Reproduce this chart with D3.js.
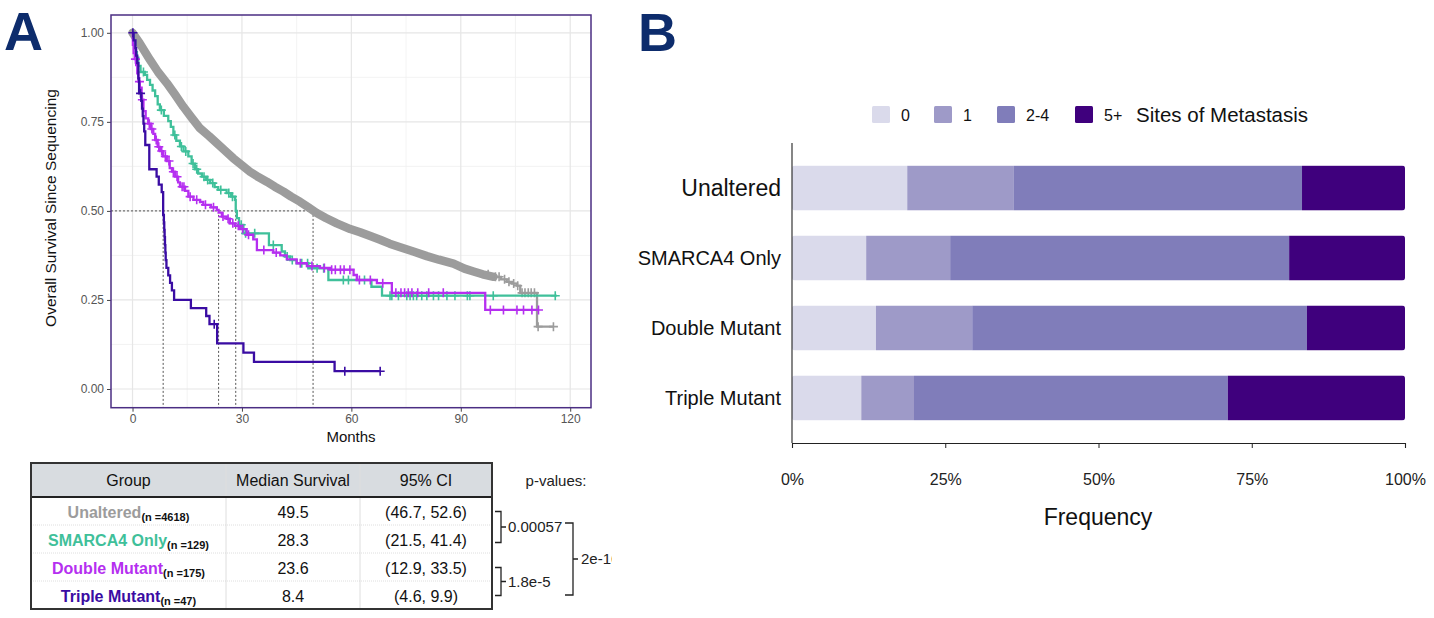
<!DOCTYPE html>
<html><head><meta charset="utf-8">
<script src="https://cdn.jsdelivr.net/npm/d3@7"></script>
<style>html,body{margin:0;padding:0;background:#fff;} svg{display:block;font-family:"Liberation Sans",Arial,Helvetica,sans-serif;}</style>
</head><body><svg id="c" width="1434" height="618"></svg>
<script>
// ---------- Panel A data (Kaplan-Meier) ----------
const unalteredT = [0,2,4.8,7,9.4,11.7,13.9,16.2,18.5,21,23.1,25.5,27.6,30,32.2,34.5,36.8,39,41.4,43.5,45.9,48.2,50.5,53,56,59.7,62.4,65,67.9,70.5,73.4,77,80.7,84,88,91,93.5,96,99,101,102.6,104,105.4,106.3,110.9];
const unalteredS = [1,0.97,0.924,0.89,0.859,0.826,0.793,0.762,0.732,0.71,0.69,0.668,0.648,0.628,0.61,0.595,0.582,0.568,0.554,0.54,0.526,0.51,0.494,0.48,0.465,0.449,0.44,0.43,0.419,0.408,0.398,0.386,0.373,0.363,0.352,0.338,0.33,0.322,0.315,0.308,0.301,0.296,0.29,0.27,0.175];
const unalteredEnd = 115.4;
const unalteredCens = [97.5,99.5,100.5,102,103.2,104.5,105.6,106.8,107.6,108.5,109.3,110.2,111.2,115.4];

const smarcaT = [0,0.3,0.7,1.2,1.6,2.2,3.4,4.0,4.8,5.5,6.2,6.9,7.5,8.6,9.8,10.5,11.2,12.0,13.0,14.0,15.3,16.2,17.1,18.0,19.0,20.2,21.3,22.5,23.5,25.8,27.0,28.1,28.3,28.6,29.2,30.4,37.4,40.9,41.8,43.2,45.0,48.2,53.7,65.5,68.4];
const smarcaS = [1,0.977,0.946,0.93,0.907,0.89,0.882,0.868,0.854,0.838,0.822,0.799,0.783,0.767,0.752,0.736,0.713,0.697,0.681,0.667,0.653,0.633,0.617,0.605,0.596,0.587,0.578,0.567,0.559,0.55,0.54,0.531,0.50,0.48,0.461,0.437,0.404,0.386,0.372,0.362,0.353,0.339,0.306,0.287,0.262];
const smarcaEnd = 116.3;
const smarcaCens = [3.0,7.9,11.6,13.4,14.6,16.6,17.6,19.6,20.6,22.0,24.2,26.4,27.4,29.8,31.0,33.5,38.6,42.4,43.8,46.4,48.0,50.6,52.4,57.8,59.2,63.6,70.6,71.1,72.9,75.2,76.1,77.0,77.9,79.3,80.7,82.5,83.9,86.2,88.4,91.8,92.5,98.9,115.9];

const doubleT = [0,0.1,0.3,0.6,1.0,1.3,1.6,2.0,2.5,3.0,3.6,4.3,5.0,5.7,6.2,6.9,7.5,8.4,9.4,10.2,10.8,11.7,12.5,13.0,14.4,15.3,16.7,18.5,19.4,21.5,23.1,23.6,24.5,25.8,26.7,28.1,29.5,31.3,33.1,34.1,38.6,40.5,42.3,45.0,47.8,51.4,54.2,60.6,61.5,67.0,71.1,96.7];
const doubleS = [1,0.966,0.943,0.926,0.909,0.886,0.863,0.846,0.812,0.78,0.76,0.745,0.73,0.716,0.699,0.68,0.668,0.653,0.64,0.62,0.61,0.596,0.58,0.568,0.556,0.54,0.531,0.525,0.517,0.51,0.503,0.495,0.484,0.478,0.465,0.458,0.449,0.433,0.42,0.39,0.383,0.375,0.364,0.353,0.345,0.34,0.335,0.32,0.306,0.297,0.27,0.222];
const doubleEnd = 111.3;
const doubleCens = [0.8,1.9,2.7,4.6,5.3,6.5,7.2,8.0,9.0,10.0,11.2,12.2,13.6,14.1,15.8,17.6,20.0,22.2,24.8,26.2,27.5,29.0,30.2,31.8,36.0,39.4,46.0,49.2,52.6,54.6,55.6,57.0,58.0,59.6,62.2,65.2,68.6,72.2,73.6,74.6,75.6,76.6,78.2,81.2,85.2,98.1,101.7,105.4,107.2,109.5,111.3];

const tripleT = [0,0.3,0.8,1.0,1.3,1.6,1.8,2.4,2.6,2.8,3.0,3.2,3.5,4.6,6.6,7.2,8.0,8.4,8.6,8.7,8.8,8.9,9.0,9.1,9.3,9.8,10.3,10.8,11.4,16,20.2,21.1,23.2,30.4,33.3,55.4];
const tripleS = [1,0.979,0.957,0.936,0.915,0.872,0.83,0.809,0.787,0.766,0.745,0.723,0.685,0.617,0.596,0.574,0.553,0.489,0.468,0.447,0.426,0.404,0.383,0.362,0.340,0.319,0.298,0.277,0.25,0.227,0.205,0.182,0.128,0.102,0.076,0.05];
const tripleEnd = 67.9;
const tripleCens = [0.1,2.2,22.4,58.2,67.9];

const groupNames = ["Unaltered","SMARCA4 Only","Double Mutant","Triple Mutant"];
const groupN = ["(n =4618)","(n =129)","(n =175)","(n =47)"];
const groupColors = ["#9c9c9c","#3fc09a","#b52ff0","#3a0ca3"];
const medianSurvival = [49.5,28.3,23.6,8.4];
const ciText = ["(46.7, 52.6)","(21.5, 41.4)","(12.9, 33.5)","(4.6, 9.9)"];
const pvals = ["0.00057","1.8e-5","2e-16"];
const xTicksA = [0,30,60,90,120];
const yTicksA = [0,0.25,0.5,0.75,1];

// ---------- Panel B data ----------
const metCategories = ["Unaltered","SMARCA4 Only","Double Mutant","Triple Mutant"];
const metLevels = ["0","1","2-4","5+"];
const metColors = ["#dadaeb","#9e9ac8","#807dba","#3f007d"];
const pct0  = [18.8,12.1,13.7,11.3];
const pct1  = [17.4,13.7,15.7,8.6];
const pct24 = [47.0,55.3,54.6,51.2];
const pct5  = [16.8,18.9,16.0,28.9];
const xTicksB = [0,0.25,0.5,0.75,1];

const svg = d3.select("#c");
const defs = svg.append("defs");

// ================= PANEL A =================
const A = svg.append("g");
defs.append("clipPath").attr("id","clipA").append("rect").attr("x",0).attr("y",0).attr("width",612).attr("height",618);
A.attr("clip-path","url(#clipA)");

A.append("text").attr("x",4).attr("y",50).attr("font-size",54).attr("font-weight","bold").attr("fill","#0d2c6c").text("A");

const x = d3.scaleLinear().domain([-5.9,125.7]).range([111,591]);
const y = d3.scaleLinear().domain([-0.0525,1.05]).range([407.7,15]);

// grid
const grid = A.append("g");
[15,45,75,105].forEach(v=>grid.append("line").attr("x1",x(v)).attr("x2",x(v)).attr("y1",15).attr("y2",407.7).attr("stroke","#f0f0f0").attr("stroke-width",0.8));
[0.125,0.375,0.625,0.875].forEach(v=>grid.append("line").attr("y1",y(v)).attr("y2",y(v)).attr("x1",111).attr("x2",591).attr("stroke","#f0f0f0").attr("stroke-width",0.8));
xTicksA.forEach(v=>grid.append("line").attr("x1",x(v)).attr("x2",x(v)).attr("y1",15).attr("y2",407.7).attr("stroke","#e6e6e6").attr("stroke-width",1.2));
yTicksA.forEach(v=>grid.append("line").attr("y1",y(v)).attr("y2",y(v)).attr("x1",111).attr("x2",591).attr("stroke","#e6e6e6").attr("stroke-width",1.2));

// axes
const xa = A.append("g").attr("transform","translate(0,407.7)").call(d3.axisBottom(x).tickValues(xTicksA).tickSize(4).tickPadding(3));
const ya = A.append("g").attr("transform","translate(111,0)").call(d3.axisLeft(y).tickValues(yTicksA).tickFormat(d3.format(".2f")).tickSize(4).tickPadding(3));
[xa,ya].forEach(g=>{g.select(".domain").remove();g.selectAll("line").attr("stroke","#444");g.selectAll("text").attr("fill","#555").attr("font-size",12).attr("font-family","Liberation Sans, Arial, sans-serif");});

A.append("text").attr("x",351).attr("y",442).attr("text-anchor","middle").attr("font-size",15).attr("fill","#111").text("Months");
A.append("text").attr("transform","translate(56,208) rotate(-90)").attr("text-anchor","middle").attr("font-size",15.5).attr("fill","#111").text("Overall Survival Since Sequencing");

// median dotted lines
const dot = A.append("g").attr("stroke","#555").attr("stroke-width",1).attr("stroke-dasharray","2,2").attr("fill","none");
dot.append("line").attr("x1",111).attr("x2",x(d3.max(medianSurvival))).attr("y1",y(0.5)).attr("y2",y(0.5));
medianSurvival.forEach(m=>dot.append("line").attr("x1",x(m)).attr("x2",x(m)).attr("y1",y(0.5)).attr("y2",407.7));

// curves
const series = [
  {T:unalteredT,S:unalteredS,end:unalteredEnd,c:unalteredCens,col:groupColors[0]},
  {T:smarcaT,S:smarcaS,end:smarcaEnd,c:smarcaCens,col:groupColors[1]},
  {T:doubleT,S:doubleS,end:doubleEnd,c:doubleCens,col:groupColors[2]},
  {T:tripleT,S:tripleS,end:tripleEnd,c:tripleCens,col:groupColors[3]}
];
const stepLine = d3.line().x(d=>x(d[0])).y(d=>y(d[1])).curve(d3.curveStepAfter);
const smoothLine = d3.line().x(d=>x(d[0])).y(d=>y(d[1]));
function survAt(T,S,t){let i=d3.bisectRight(T,t)-1; if(i<0)i=0; return S[i];}

series.forEach((s,k)=>{
  const pts = d3.zip(s.T,s.S); pts.push([s.end,s.S[s.S.length-1]]);
  const g = A.append("g");
  let stepPts = pts;
  if(k===0){
    // dense censoring band of the large group
    g.append("path").attr("d",smoothLine(pts.filter(p=>p[0]<=99))).attr("fill","none").attr("stroke",s.col).attr("stroke-width",8.5).attr("stroke-linejoin","round").attr("stroke-linecap","round");
    stepPts = pts.filter(p=>p[0]>=96);
  }
  g.append("path").attr("d",stepLine(stepPts)).attr("fill","none").attr("stroke",s.col).attr("stroke-width",2.3);
  s.c.forEach(t=>{
    const cx=x(t), cy=y(survAt(s.T,s.S,t));
    g.append("path").attr("d",`M${cx-4.5},${cy}H${cx+4.5}M${cx},${cy-4.5}V${cy+4.5}`).attr("stroke",s.col).attr("stroke-width",1.6);
  });
});

A.append("rect").attr("x",111).attr("y",15).attr("width",480).attr("height",392.7).attr("fill","none").attr("stroke","#4b2e83").attr("stroke-width",1.5);

// ---------- table ----------
const T = A.append("g");
const tx0=31, tx1=226, tx2=360, tx3=492, ty0=463, tyH=497, rowH=28;
T.append("rect").attr("x",tx0).attr("y",ty0).attr("width",tx3-tx0).attr("height",tyH-ty0).attr("fill","#d8dce0");
[tx1,tx2].forEach(cx=>T.append("line").attr("x1",cx).attr("x2",cx).attr("y1",ty0).attr("y2",tyH+4*rowH).attr("stroke","#dedede").attr("stroke-width",1));
[1,2,3].forEach(i=>T.append("line").attr("x1",tx0).attr("x2",tx3).attr("y1",tyH+i*rowH).attr("y2",tyH+i*rowH).attr("stroke","#d6d6d6").attr("stroke-width",0.8).attr("stroke-dasharray","1,1"));
T.append("line").attr("x1",tx0).attr("x2",tx3).attr("y1",tyH).attr("y2",tyH).attr("stroke","#222").attr("stroke-width",2);
T.append("rect").attr("x",tx0).attr("y",ty0).attr("width",tx3-tx0).attr("height",tyH+4*rowH-ty0).attr("fill","none").attr("stroke","#333").attr("stroke-width",2);
const hdr = ["Group","Median Survival","95% CI"], hx=[(tx0+tx1)/2,(tx1+tx2)/2,(tx2+tx3)/2];
hdr.forEach((h,i)=>T.append("text").attr("x",hx[i]).attr("y",486).attr("text-anchor","middle").attr("font-size",16).attr("fill","#111").text(h));
groupNames.forEach((g,i)=>{
  const cy = tyH + i*rowH + 21;
  const t = T.append("text").attr("x",hx[0]).attr("y",cy).attr("text-anchor","middle");
  t.append("tspan").attr("font-size",16).attr("font-weight","bold").attr("fill",groupColors[i]).text(g);
  t.append("tspan").attr("font-size",11).attr("font-weight","bold").attr("fill","#111").attr("dy",3).text(groupN[i]);
  T.append("text").attr("x",hx[1]).attr("y",cy).attr("text-anchor","middle").attr("font-size",16).attr("fill","#111").text(medianSurvival[i].toFixed(1));
  T.append("text").attr("x",hx[2]).attr("y",cy).attr("text-anchor","middle").attr("font-size",16).attr("fill","#111").text(ciText[i]);
});
// p-values brackets
const P = A.append("g").attr("stroke","#222").attr("stroke-width",1.3).attr("fill","none");
P.append("path").attr("d","M495,511.5H501V542.5H495M501,527H506");
P.append("path").attr("d","M495,567.5H501V595.5H495M501,581.5H506");
P.append("path").attr("d","M565,523H573V595H565M573,559H578");
A.append("text").attr("x",556).attr("y",486).attr("text-anchor","middle").attr("font-size",15).attr("fill","#222").text("p-values:");
A.append("text").attr("x",508).attr("y",532).attr("font-size",15).attr("fill","#222").text(pvals[0]);
A.append("text").attr("x",508).attr("y",586.5).attr("font-size",15).attr("fill","#222").text(pvals[1]);
A.append("text").attr("x",581).attr("y",564).attr("font-size",15).attr("fill","#222").text(pvals[2]);

// ================= PANEL B =================
const B = svg.append("g");
B.append("text").attr("x",638).attr("y",51).attr("font-size",54).attr("font-weight","bold").attr("fill","#0d2c6c").text("B");

const xB = d3.scaleLinear().domain([0,1]).range([792,1405]);
const yB = d3.scaleBand().domain(metCategories).range([146,440]).paddingInner(0.357).paddingOuter(0.28);

const rows = metCategories.map((c,i)=>({cat:c,"0":pct0[i]/100,"1":pct1[i]/100,"2-4":pct24[i]/100,"5+":pct5[i]/100}));
const stacked = d3.stack().keys(metLevels)(rows);
metCategories.forEach((c,i)=>{
  defs.append("clipPath").attr("id","bar"+i).append("rect").attr("x",xB(0)).attr("y",yB(c)).attr("width",xB(1)-xB(0)).attr("height",yB.bandwidth()).attr("rx",3);
});
stacked.forEach((layer,li)=>{
  layer.forEach((d,i)=>{
    B.append("rect").attr("clip-path",`url(#bar${i})`).attr("x",xB(d[0])).attr("y",yB(d.data.cat)).attr("width",xB(d[1])-xB(d[0])).attr("height",yB.bandwidth()).attr("fill",metColors[li]);
  });
});

// axes B
B.append("line").attr("x1",792).attr("x2",792).attr("y1",143).attr("y2",443).attr("stroke","#222").attr("stroke-width",1.1);
const xaB = B.append("g").attr("transform","translate(0,443)").call(d3.axisBottom(xB).tickValues(xTicksB).tickFormat(d3.format(".0%")).tickSize(5).tickPadding(26));
xaB.select(".domain").attr("stroke","#222").attr("stroke-width",1.1);
xaB.selectAll("line").attr("stroke","#222");
xaB.selectAll("text").attr("font-size",16).attr("fill","#222").attr("font-family","Liberation Sans, Arial, sans-serif");
metCategories.forEach((c,i)=>{
  B.append("text").attr("x",781).attr("y",yB(c)+yB.bandwidth()/2).attr("dy","0.36em").attr("text-anchor","end")
   .attr("font-size",i===0?23:20).attr("fill","#111").text(c);
});
B.append("text").attr("x",1098).attr("y",525).attr("text-anchor","middle").attr("font-size",23).attr("fill","#111").text("Frequency");

// legend
const legX = [872,934,997,1075];
metLevels.forEach((l,i)=>{
  B.append("rect").attr("x",legX[i]).attr("y",106).attr("width",18).attr("height",17).attr("rx",1.5).attr("fill",metColors[i]);
  B.append("text").attr("x",legX[i]+29).attr("y",121).attr("font-size",16).attr("fill","#111").text(l);
});
B.append("text").attr("x",1136).attr("y",122).attr("font-size",20.5).attr("fill","#111").text("Sites of Metastasis");
</script></body></html>
